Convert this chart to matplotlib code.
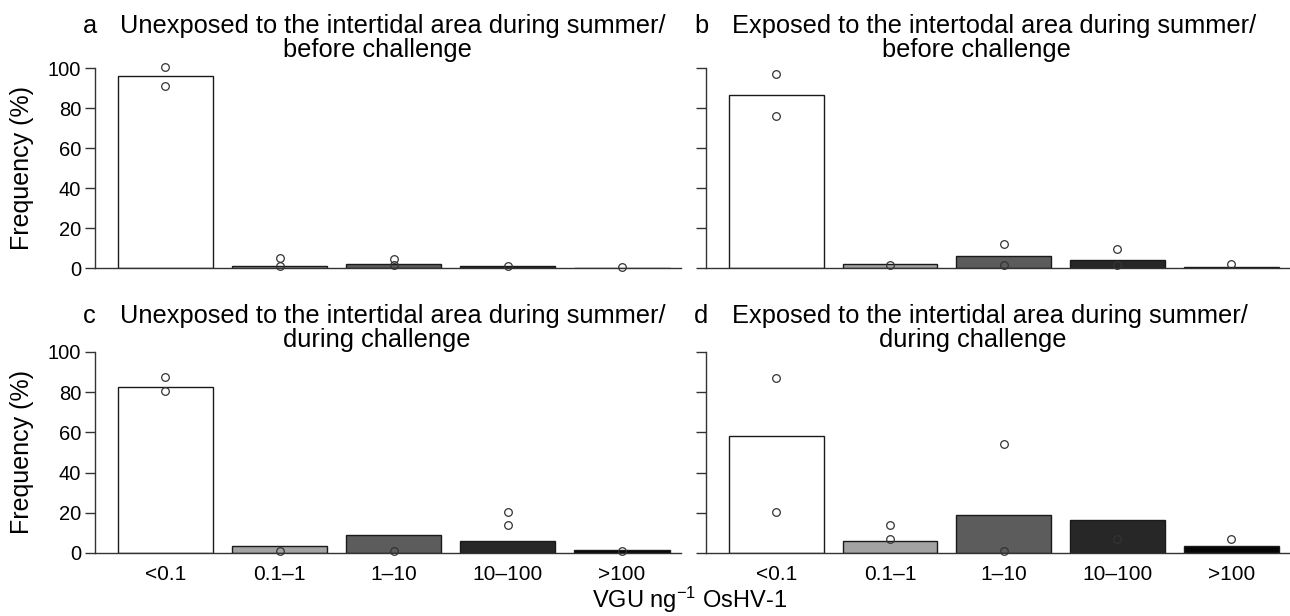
import matplotlib
matplotlib.use("Agg")
import matplotlib.pyplot as plt
import numpy as np

plt.rcParams['font.family'] = ['Liberation Sans', 'DejaVu Sans']
plt.rcParams['mathtext.fontset'] = 'custom'
plt.rcParams['mathtext.rm'] = 'Liberation Sans'
plt.rcParams['mathtext.it'] = 'Liberation Sans:italic'

categories = ["<0.1", "0.1\u20131", "1\u201310", "10\u2013100", ">100"]
bar_colors = ["#ffffff", "#a3a3a3", "#5c5c5c", "#272727", "#050505"]

means_a = [96.0, 0.8, 2.2, 1.2, 0.2]
means_b = [86.4, 2.0, 6.1, 4.1, 0.7]
means_c = [82.8, 3.5, 8.9, 6.1, 1.7]
means_d = [58.2, 6.1, 18.8, 16.4, 3.6]

points_a = [[100.7, 91.2], [5.1, 0.8], [4.3, 1.7], [1.0], [0.5]]
points_b = [[97.2, 76.2], [1.3], [12.2, 1.3], [9.3, 1.3], [2.1]]
points_c = [[87.4, 80.7], [0.8], [0.8], [20.3, 13.7], [1.0]]
points_d = [[87.3, 20.3], [13.7, 6.9], [54.2, 0.8], [6.9], [6.9]]

titles = [
    ("a", "Unexposed to the intertidal area during summer/", "before challenge"),
    ("b", "Exposed to the intertodal area during summer/", "before challenge"),
    ("c", "Unexposed to the intertidal area during summer/", "during challenge"),
    ("d", "Exposed to the intertidal area during summer/", "during challenge"),
]

W, H = 1290, 616
fig = plt.figure(figsize=(W / 100, H / 100), dpi=100)

def px_axes(x0, x1, ytop, ybot):
    return fig.add_axes([x0 / W, (H - ybot) / H, (x1 - x0) / W, (ybot - ytop) / H])

# panel geometry in pixels: (left, right, y of 100, y of 0)
geoms = [(95, 681, 68, 268), (706, 1290, 68, 268),
         (95, 681, 352, 553), (706, 1290, 352, 553)]
all_means = [means_a, means_b, means_c, means_d]
all_points = [points_a, points_b, points_c, points_d]

centers = 0.7 + 1.2 * np.arange(len(categories))

for i, (g, m, pts) in enumerate(zip(geoms, all_means, all_points)):
    ax = px_axes(g[0], g[1], g[2], g[3])
    ax.bar(centers, m, width=1.0, color=bar_colors, edgecolor="#1a1a1a",
           linewidth=1.0, zorder=2)
    for c, p in zip(centers, pts):
        ax.plot([c] * len(p), p, linestyle="none", marker="o", ms=5.5,
                mfc="none", mec="#333333", mew=0.9, zorder=3, clip_on=False)
    ax.set_xlim(-0.04, 6.12)
    ax.set_ylim(0, 100)
    ax.set_yticks([0, 20, 40, 60, 80, 100])
    for s in ["top", "right"]:
        ax.spines[s].set_visible(False)
    for s in ["left", "bottom"]:
        ax.spines[s].set_color("#333333")
        ax.spines[s].set_linewidth(1.0)
    ax.tick_params(axis="y", direction="out", length=7, width=1.0,
                   color="#333333", labelsize=14.5, pad=3)
    if i % 2 == 1:
        ax.tick_params(axis="y", labelleft=False)
    if i >= 2:
        ax.set_xticks(centers)
        ax.set_xticklabels(categories)
        ax.tick_params(axis="x", length=0, labelsize=15, pad=9)
    else:
        ax.set_xticks([])
    if i % 2 == 0:
        fig.text(22 / W, 1 - ((g[2] + g[3]) / 2) / H, "Frequency (%)",
                 fontsize=18, rotation=90, ha="center", va="center")

# titles
title_pos = [(83, 120, 377, 33, 57), (694, 732, 976, 33, 57),
             (83, 120, 377, 323, 347), (694, 732, 973, 323, 347)]
for (letter, l1, l2), (xl, xt, xc, y1, y2) in zip(titles, title_pos):
    fig.text(xl / W, 1 - y1 / H, letter, fontsize=18.3, ha="left", va="baseline")
    fig.text(xt / W, 1 - y1 / H, l1, fontsize=18.3, ha="left", va="baseline")
    fig.text(xc / W, 1 - y2 / H, l2, fontsize=18.3, ha="center", va="baseline")

fig.text(690 / W, 1 - 608 / H, r"VGU ng$^{\mathrm{-1}}$ OsHV-1", fontsize=17,
         ha="center", va="baseline")

fig.savefig("out.png", dpi=100)
